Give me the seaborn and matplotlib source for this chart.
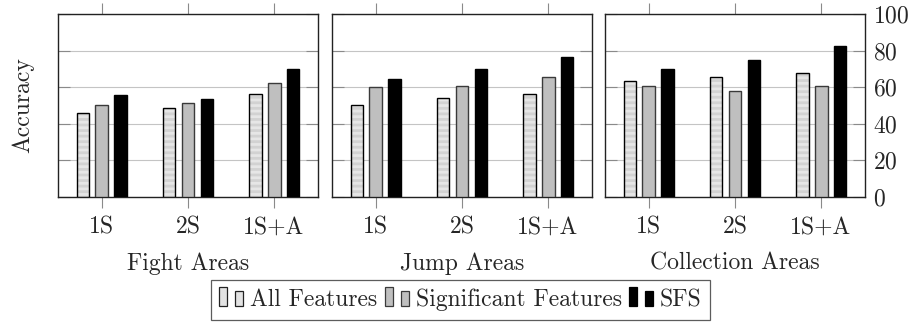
import numpy as np
import pandas as pd
import matplotlib
matplotlib.use("Agg")
import matplotlib.pyplot as plt
import seaborn as sns
from matplotlib.patches import Rectangle
from matplotlib.legend_handler import HandlerBase

# Datos
areas = ["Fight Areas", "Jump Areas", "Collection Areas"]
settings = ["1S", "2S", "1S+A"]
methods = ["All Features", "Significant Features", "SFS"]

all_features = [[45.7, 48.8, 56.5], [50.4, 54.1, 56.5], [63.6, 65.4, 67.6]]
significant = [[50.1, 51.2, 62.3], [59.9, 60.8, 65.7], [60.8, 57.7, 60.8]]
sfs = [[55.6, 53.4, 70.1], [64.7, 69.8, 76.5], [69.8, 74.9, 82.5]]

yticks = [0, 20, 40, 60, 80, 100]

rows = []
for i, area in enumerate(areas):
    for j, s in enumerate(settings):
        rows.append((area, s, methods[0], all_features[i][j]))
        rows.append((area, s, methods[1], significant[i][j]))
        rows.append((area, s, methods[2], sfs[i][j]))
df = pd.DataFrame(rows, columns=["Area", "Setting", "Method", "Accuracy"])

sns.set_theme(style="white")
plt.rcParams["font.family"] = ["cmr10", "DejaVu Serif"]
plt.rcParams["axes.formatter.use_mathtext"] = True
plt.rcParams["hatch.linewidth"] = 2.0

FS = 17
face = {"All Features": "#e6e6e6", "Significant Features": "#bfbfbf", "SFS": "#000000"}
edge = {"All Features": "#000000", "Significant Features": "#3a3a3a", "SFS": "#000000"}
hatch_col = "#d2d2d2"

fig = plt.figure(figsize=(9.11, 3.22), dpi=100)
W, H = 911, 322
lefts = [58, 332, 605]
pw = 260
bottom, top = 197, 14

for k, area in enumerate(areas):
    ax = fig.add_axes([lefts[k] / W, 1 - bottom / H, pw / W, (bottom - top) / H])
    sub = df[df["Area"] == area]
    sns.barplot(data=sub, x="Setting", y="Accuracy", hue="Method",
                order=settings, hue_order=methods, palette=face,
                width=0.66, gap=0.32, legend=False, ax=ax, zorder=3)
    # bordes y patrón de rayas
    for cont, m in zip(ax.containers, methods):
        for p in cont:
            if m == "All Features":
                p.set_edgecolor(hatch_col)
                p.set_linewidth(0)
                p.set_hatch("---")
                r = Rectangle(p.get_xy(), p.get_width(), p.get_height(),
                              fill=False, edgecolor="#000000", lw=1.0, zorder=4)
                ax.add_patch(r)
            else:
                p.set_edgecolor(edge[m])
                p.set_linewidth(1.0)
    ax.set_xlim(-0.51, 2.51)
    ax.set_ylim(0, 100)
    ax.set_yticks(yticks)
    ax.yaxis.grid(True, color="#c4c4c4", lw=0.8, zorder=0)
    ax.set_axisbelow(True)
    ax.tick_params(axis="y", which="both", direction="in", length=8.5, width=0.8,
                   color="#8a8a8a", left=True, right=True, labelleft=False,
                   labelright=(k == 2), labelsize=FS, pad=6)
    ax.tick_params(axis="x", direction="out", length=8, width=0.8, color="#8a8a8a",
                   top=True, bottom=True, labelsize=FS, pad=6)
    for sp in ax.spines.values():
        sp.set_color("#222222")
        sp.set_linewidth(1.0)
    ax.set_xlabel(area, fontsize=FS, labelpad=10)
    if k == 0:
        ax.set_ylabel("Accuracy", fontsize=FS, labelpad=17)
    else:
        ax.set_ylabel("")


class HandlerTwoBars(HandlerBase):
    def __init__(self, fc, ec):
        super().__init__()
        self.fc, self.ec = fc, ec

    def create_artists(self, legend, orig_handle, xdescent, ydescent, width, height,
                       fontsize, trans):
        bw = fontsize * 0.34
        arts = []
        for x0, h in [(0, fontsize * 0.8), (fontsize * 0.68, fontsize * 0.64)]:
            r = Rectangle((x0 - xdescent, -ydescent), bw, h,
                          facecolor=self.fc, edgecolor=self.ec, lw=0.9, transform=trans)
            arts.append(r)
        return arts


handles = [Rectangle((0, 0), 1, 1) for _ in methods]
handler_map = {handles[0]: HandlerTwoBars("#e3e3e3", "#222222"),
               handles[1]: HandlerTwoBars("#bfbfbf", "#3a3a3a"),
               handles[2]: HandlerTwoBars("#000000", "#000000")}
leg = fig.legend(handles, methods, handler_map=handler_map, loc="center",
                 bbox_to_anchor=(460.5 / W, 1 - 300 / H), ncol=3, fontsize=FS,
                 frameon=True, fancybox=False, edgecolor="#333333",
                 handlelength=1.02, handletextpad=0.3,
                 columnspacing=0.3, borderpad=0.35, borderaxespad=0)
leg.get_frame().set_linewidth(0.9)

fig.savefig("out.png", dpi=100)
